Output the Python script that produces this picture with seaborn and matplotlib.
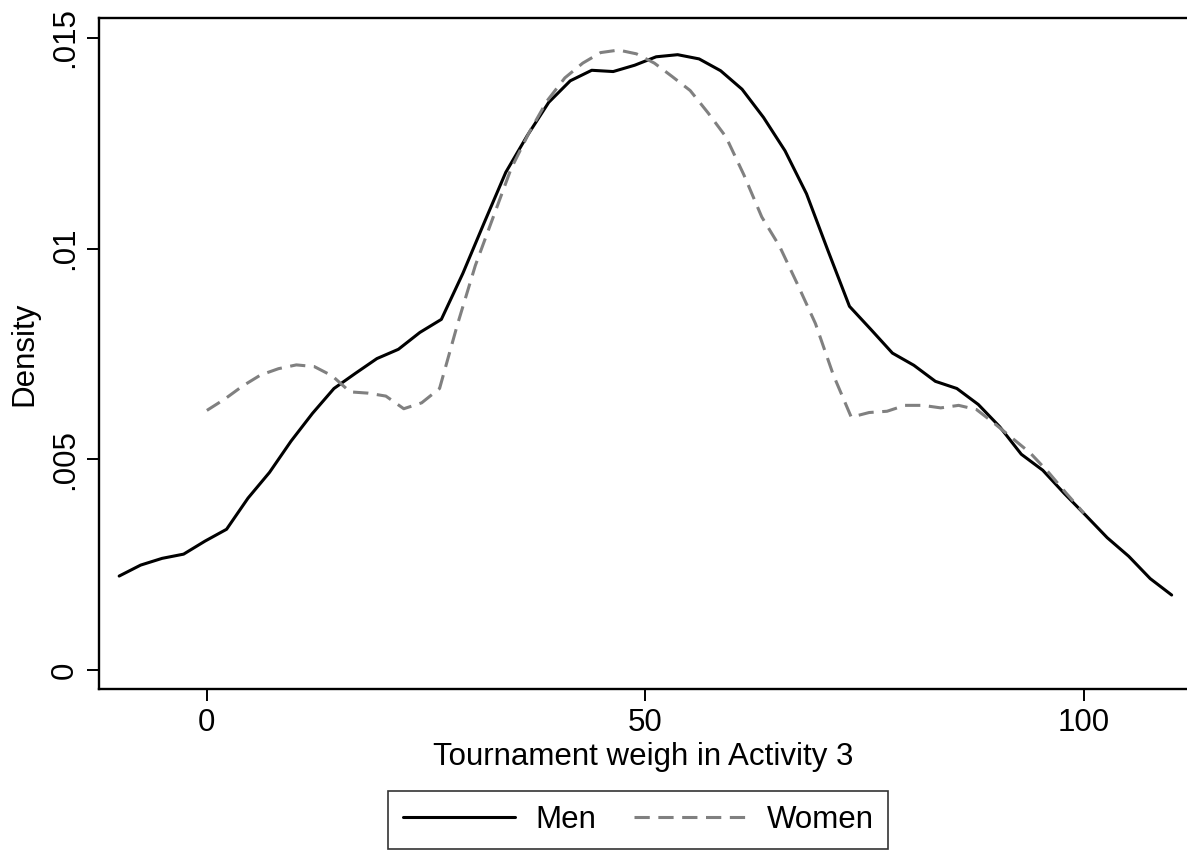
import numpy as np
import pandas as pd
import matplotlib
matplotlib.use("Agg")
import matplotlib.pyplot as plt
import seaborn as sns
from matplotlib.lines import Line2D

men_x_start, men_x_end = -10.0, 110.0
women_x_start, women_x_end = 0.0, 100.0

men_density = [0.00223, 0.00249, 0.00265, 0.00275, 0.00306, 0.00334, 0.00408, 0.00469,
               0.00543, 0.00609, 0.00668, 0.00704, 0.00739, 0.00761, 0.00801, 0.00832,
               0.00941, 0.01062, 0.01181, 0.01268, 0.01347, 0.01398, 0.01423, 0.01420,
               0.01435, 0.01455, 0.01460, 0.01450, 0.01422, 0.01378, 0.01311, 0.01232,
               0.01130, 0.00995, 0.00863, 0.00808, 0.00752, 0.00723, 0.00685, 0.00668,
               0.00630, 0.00577, 0.00512, 0.00474, 0.00419, 0.00367, 0.00314, 0.00270,
               0.00217, 0.00178]

women_density = [0.00616, 0.00643, 0.00674, 0.00700, 0.00715, 0.00724, 0.00720, 0.00698,
                 0.00660, 0.00657, 0.00650, 0.00620, 0.00634, 0.00668, 0.00820, 0.00960,
                 0.01075, 0.01190, 0.01275, 0.01350, 0.01405, 0.01440, 0.01465, 0.01471,
                 0.01462, 0.01440, 0.01408, 0.01375, 0.01322, 0.01265, 0.01175, 0.01075,
                 0.01005, 0.00915, 0.00822, 0.00700, 0.00600, 0.00611, 0.00614, 0.00628,
                 0.00628, 0.00622, 0.00628, 0.00618, 0.00585, 0.00550, 0.00515, 0.00470,
                 0.00420, 0.00372]

x_ticks = [0, 50, 100]
x_tick_labels = ["0", "50", "100"]
y_ticks = [0, 0.005, 0.01, 0.015]
y_tick_labels = ["0", ".005", ".01", ".015"]

men_x = np.linspace(men_x_start, men_x_end, len(men_density))
women_x = np.linspace(women_x_start, women_x_end, len(women_density))

df = pd.concat([
    pd.DataFrame({"x": men_x, "density": men_density, "group": "Men"}),
    pd.DataFrame({"x": women_x, "density": women_density, "group": "Women"}),
], ignore_index=True)

sns.set_theme(style="white")
plt.rcParams['font.family'] = ['Liberation Sans', 'DejaVu Sans']
plt.rcParams['text.color'] = 'black'

FS = 22.5
LW = 2.2
DASH = (5, 2.8)

fig = plt.figure(figsize=(11.87, 8.5), dpi=100)
ax = fig.add_axes([0.0834, 0.1894, 0.9166, 0.7894])

sns.lineplot(data=df, x="x", y="density", hue="group", style="group",
             palette={"Men": "black", "Women": "#808080"},
             dashes={"Men": "", "Women": DASH},
             linewidth=LW, ax=ax, legend=False, sort=False)

ax.set_xlim(-12.3, 111.75)
ax.set_ylim(-0.00045, 0.01547)
ax.set_xticks(x_ticks)
ax.set_xticklabels(x_tick_labels, fontsize=FS)
ax.set_yticks(y_ticks)
ax.set_yticklabels(y_tick_labels, fontsize=FS, rotation=90, va="center")
ax.tick_params(axis="both", direction="out", length=8.5, width=1.4, color="black",
               bottom=True, left=True, pad=5, labelcolor="black")
ax.set_xlabel("Tournament weigh in Activity 3", fontsize=FS, color="black", labelpad=3)
ax.set_ylabel("Density", fontsize=FS, color="black", labelpad=8)

for side in ["left", "bottom", "top"]:
    ax.spines[side].set_visible(True)
    ax.spines[side].set_color("black")
    ax.spines[side].set_linewidth(1.7)
ax.spines["right"].set_visible(False)
ax.grid(False)

handles = [Line2D([], [], color="black", linewidth=LW),
           Line2D([], [], color="#808080", linewidth=LW, linestyle=(0, DASH))]
leg = fig.legend(handles, ["Men", "Women"], loc="center",
                 bbox_to_anchor=(0.5375, 0.0353), ncol=2, fontsize=FS,
                 frameon=True, fancybox=False, handlelength=3.6,
                 handletextpad=0.65, columnspacing=1.2, borderpad=0.45,
                 borderaxespad=0)
leg.get_frame().set_edgecolor("black")
leg.get_frame().set_linewidth(1.2)
for t in leg.get_texts():
    t.set_color("black")

fig.savefig("out.png", dpi=100, facecolor="white")
